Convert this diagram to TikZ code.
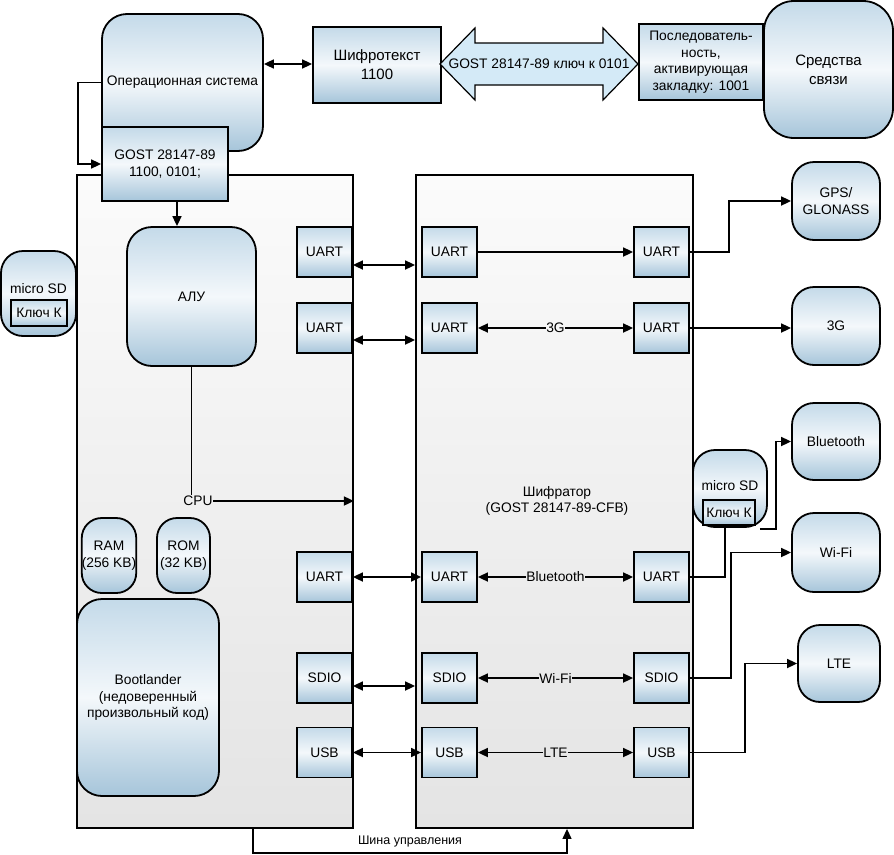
\documentclass[tikz,border=0pt]{standalone}
\usepackage{fontspec}
\setmainfont{Liberation Sans}
\usetikzlibrary{arrows.meta,calc}
\definecolor{bTop}{RGB}{196,218,233}
\definecolor{bMid}{RGB}{244,248,251}
\definecolor{bBot}{RGB}{166,197,218}
\definecolor{pTop}{RGB}{251,251,251}
\definecolor{pBot}{RGB}{228,228,228}
\definecolor{arrFill}{RGB}{212,234,247}
\tikzset{
  box/.style={draw, line width=1.8pt, top color=bTop, bottom color=bBot, middle color=bMid, align=center, inner sep=0pt},
  rbox/.style={box, rounded corners=#1},
  rbox/.default=22pt,
  panel/.style={draw, line width=1.8pt, top color=pTop, bottom color=pBot, inner sep=0pt},
  lnk/.style={line width=1.7pt, -{Triangle[length=10pt,width=9pt]}},
  blnk/.style={line width=1.7pt, {Triangle[length=10pt,width=9pt]}-{Triangle[length=10pt,width=9pt]}},
  thin/.style={line width=1.2pt},
  plainln/.style={line width=1.7pt},
  lbl/.style={inner sep=0.5pt},
  big/.style={font=\fontsize{15}{19}\selectfont}
}
\begin{document}
\begin{tikzpicture}[x=1pt,y=-1pt,font=\fontsize{13.8}{16.5}\selectfont]
\useasboundingbox (0,0) rectangle (894,854);

% panels
\node[panel, minimum width=276pt, minimum height=653pt] (lp) at (215,501.5) {};
\node[panel, minimum width=277pt, minimum height=653pt] (rp) at (554.5,501.5) {};

% top row
\node[rbox=25pt, minimum width=161pt, minimum height=137pt] (os) at (182.5,82.5) {Операционная система};
\node[box, minimum width=126pt, minimum height=74pt] (gost) at (165,164) {GOST 28147-89\\1100, 0101;};
\node[box, big, minimum width=128pt, minimum height=76pt] (shif) at (377,65) {Шифротекст\\1100};
\draw[line width=1.2pt, fill=arrFill] (440,64) -- (475,28) -- (475,43) -- (603,43) -- (603,28) -- (638,64)
  -- (603,100) -- (603,85) -- (475,85) -- (475,100) -- cycle;
\node[lbl] (key) at (539,64) {GOST 28147-89 ключ к 0101};
\node[box, minimum width=124pt, minimum height=76pt] (posl) at (701,62) {Последователь-\\ность,\\активирующая\\закладку: 1001};
\node[rbox=30pt, big, minimum width=129pt, minimum height=137pt] (sv) at (828.5,69.5) {Средства\\связи};

% left micro SD
\node[rbox=22pt, minimum width=75pt, minimum height=85pt] (msd1) at (38.5,293.5) {};
\node[lbl] (msd1t) at (38.5,289) {micro SD};
\node[box, minimum width=56pt, minimum height=26pt] (key1) at (39,313) {Ключ К};

% left panel content
\node[rbox=25pt, minimum width=129pt, minimum height=139pt] (alu) at (191.5,296.5) {АЛУ};
\node[lbl] (cpu) at (198,501) {CPU};
\node[rbox=20pt, minimum width=54pt, minimum height=75pt] (ram) at (109,555.5) {RAM\\(256 KB)};
\node[rbox=20pt, minimum width=53pt, minimum height=75pt] (rom) at (183.5,555.5) {ROM\\(32 KB)};
\node[rbox=25pt, minimum width=142pt, minimum height=197pt] (boot) at (148,697.5) {Bootlander\\(недоверенный\\произвольный код)};

\foreach \n/\y/\t in {lu1/252/UART, lu2/328/UART, lu3/577/UART, lu4/678/SDIO, lu5/752.5/USB}{
  \node[box, minimum width=55pt, minimum height=50pt] (\n) at (324.5,\y) {\t};
}
\foreach \n/\y/\t in {ru1/252/UART, ru2/328/UART, ru3/577/UART, ru4/678/SDIO, ru5/752.5/USB}{
  \node[box, minimum width=55pt, minimum height=50pt] (\n) at (449.5,\y) {\t};
}
\foreach \n/\y/\t in {rr1/252/UART, rr2/328/UART, rr3/577/UART, rr4/678/SDIO, rr5/752.5/USB}{
  \node[box, minimum width=55pt, minimum height=50pt] (\n) at (661.5,\y) {\t};
}
\node[align=center] (shifr) at (557,501) {Шифратор\\(GOST 28147-89-CFB)};

% right micro SD
\node[rbox=22pt, minimum width=74pt, minimum height=77pt] (msd2) at (730,488.5) {};
\node[lbl] (msd2t) at (730,486) {micro SD};
\node[box, minimum width=52pt, minimum height=25pt] (key2) at (729,512.5) {Ключ К};

% external devices
\node[rbox=22pt, minimum width=88pt, minimum height=78pt] (gps) at (836,201) {GPS/\\GLONASS};
\node[rbox=22pt, minimum width=88pt, minimum height=78pt] (g3) at (836,326) {3G};
\node[rbox=22pt, minimum width=88pt, minimum height=77pt] (bt) at (836,441.5) {Bluetooth};
\node[rbox=22pt, minimum width=88pt, minimum height=79pt] (wifi) at (836,552.5) {Wi-Fi};
\node[rbox=22pt, minimum width=82pt, minimum height=77pt] (lte) at (839,663.5) {LTE};

% top connectors
\draw[blnk] ([yshift=18.5pt]os.east) -- ([yshift=18.5pt]os.east -| shif.west);
\draw[lnk] (os.west) -- ++(-23,0) |- (gost.west);
\draw[lnk] ([xshift=12pt]gost.south) -- ([xshift=12pt]gost.south |- alu.north);

% CPU
\draw[thin] (alu.south) -- (alu.south |- cpu.north);
\draw[lnk] (cpu.east) -- (cpu -| lp.east);

% between panels
\draw[blnk] ([yshift=-13pt]lu1.east) -- ([yshift=-13pt]lu1.east -| rp.west);
\draw[blnk] ([yshift=-12pt]lu2.east) -- ([yshift=-12pt]lu2.east -| rp.west);
\draw[blnk] (lu3.east) -- (ru3.west);
\draw[blnk] ([yshift=-8pt]lu4.east) -- ([yshift=-8pt]lu4.east -| rp.west);
\draw[blnk] (lu5.east) -- (ru5.west);

% inside encryptor
\draw[lnk] (ru1.east) -- (rr1.west);
\node[lbl] (l2) at ($(ru2.east)!0.5!(rr2.west)$) {3G};
\node[lbl] (l3) at ($(ru3.east)!0.5!(rr3.west)$) {Bluetooth};
\node[lbl] (l4) at ($(ru4.east)!0.5!(rr4.west)$) {Wi-Fi};
\node[lbl] (l5) at ($(ru5.east)!0.5!(rr5.west)$) {LTE};
\foreach \a/\l/\b in {ru2/l2/rr2, ru3/l3/rr3, ru4/l4/rr4, ru5/l5/rr5}{
  \draw[lnk] (\l.west) -- (\a.east);
  \draw[lnk] (\l.east) -- (\b.west);
}

% to external devices
\draw[lnk] (rr1.east) -- ++(39,0) |- (gps.west);
\draw[lnk] (rr2.east) -- (rr2.east -| g3.west);
\draw[plainln] (rr3.east) -| ([xshift=-5pt]msd2.south);
\draw[lnk] ([xshift=-8pt,yshift=-1pt]msd2.south east) -- ([xshift=8pt,yshift=-1pt]msd2.south east) |- (bt.west);
\draw[lnk] (rr4.east) -- ++(41,0) |- (wifi.west);
\draw[lnk] (rr5.east) -- ++(55,0) |- (lte.west);

% control bus
\draw[thin, -{Triangle[length=10pt,width=9pt]}] ([xshift=38pt]lp.south) -- ++(0,24) -| ([xshift=12.5pt]rp.south);
\node[lbl, font=\fontsize{12.5}{15}\selectfont] (bus) at (410,841) {Шина управления};
\end{tikzpicture}
\end{document}
